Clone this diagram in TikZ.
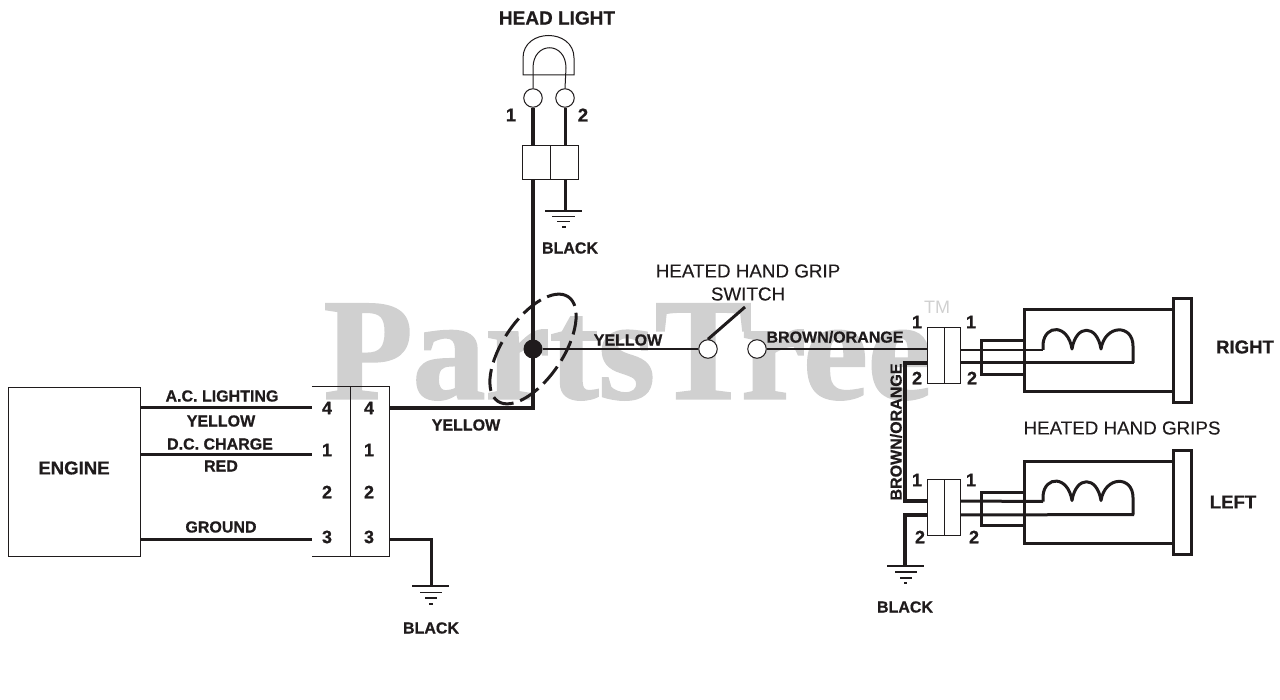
\documentclass[tikz,border=0pt]{standalone}
\usepackage{fontspec}
\setmainfont{Liberation Sans}
\newfontfamily\lblf[UprightFont=* Bold,FakeBold=0.7]{Liberation Sans}
\newfontfamily\plainf[FakeBold=0.15]{Liberation Sans}
\newfontfamily\wmf[UprightFont=* Bold,FakeBold=1.6,FakeStretch=1.01]{Liberation Serif}
\definecolor{ink}{HTML}{1F1B1C}
\definecolor{wmark}{HTML}{D0D0D0}
\tikzset{
 thinln/.style={draw=ink,line width=1pt},
 wireln/.style={draw=ink,line width=2pt},
 medln/.style={draw=ink,line width=3pt},
 thickln/.style={draw=ink,line width=3.8pt},
 gripln/.style={draw=ink,line width=3pt},
 lbl/.style={text=ink,inner sep=0pt,font=\lblf\fontsize{16}{16}\selectfont},
 biglbl/.style={text=ink,inner sep=0pt,font=\lblf\fontsize{18.6}{18.6}\selectfont},
 numlbl/.style={text=ink,inner sep=0pt,font=\lblf\fontsize{18}{18}\selectfont},
 plainlbl/.style={text=ink,inner sep=0pt,font=\plainf\fontsize{18.8}{18.8}\selectfont},
 term/.style={circle,draw=ink,line width=1pt,fill=white,inner sep=0pt,minimum size=18.5pt},
 plug/.style={draw=ink,line width=0.8pt,fill=white,inner sep=0pt,minimum width=32pt,minimum height=55pt},
 gnd/.style={draw=ink,line width=1.6pt},
}
\begin{document}
\begin{tikzpicture}[x=1pt,y=-1pt]
\useasboundingbox (0,0) rectangle (1280,700);
% watermark
\node[text=wmark,inner sep=0pt,font=\wmf\fontsize{144}{144}\selectfont] (wm) at (628,352) {PartsTree};
\node[text=wmark,inner sep=0pt,font=\fontsize{18}{18}\selectfont] (tm) at (937,307) {TM};

% engine and main connector
\node[thinln,draw,line width=0.8pt,inner sep=0pt,minimum width=132pt,minimum height=169pt] (eng) at (74,471.5) {};
\node[biglbl] at (eng.center |- 0,468) {ENGINE};
\node[inner sep=0pt,minimum width=77pt,minimum height=169pt] (cn) at (350.5,471.5) {};
\draw[thinln] (cn.north west) -- (cn.north east) -- (cn.south east) -- (cn.south west);
\draw[thinln] (cn.north) -- (cn.south);
\foreach \n/\y/\t in {a/408/4,b/450/1,c/492/2,d/537/3}{
 \node[numlbl] (\n l) at (327,\y) {\t};
 \node[numlbl] (\n r) at (369,\y) {\t};
}
\coordinate (w4) at (0,408);
\coordinate (w1b) at (0,454);
\coordinate (w3b) at (0,539);
\draw[medln] (eng.east |- w4) -- (cn.west |- w4);
\draw[medln] (eng.east |- w1b) -- (cn.west |- w1b);
\draw[medln] (eng.east |- w3b) -- (cn.west |- w3b);
\node[lbl] (t1) at (222,396) {A.C. LIGHTING};
\node[lbl] (t2) at (221,421) {YELLOW};
\node[lbl] (t3) at (220,444) {D.C. CHARGE};
\node[lbl] (t4) at (221,466) {RED};
\node[lbl] (t5) at (221,527) {GROUND};

% main trunk
\coordinate (jn) at (533,349);
\node[inner sep=0pt,minimum width=55pt,minimum height=33pt] (hp) at (550.5,162.5) {};
\draw[thickln,line join=miter] (cn.east |- w4) -- (jn |- w4) -- (jn |- hp.south);
\node[lbl] (t6) at (466,425) {YELLOW};
% ground of main connector
\coordinate (g1) at (431,586);
\draw[medln] (cn.east |- w3b) -- (g1 |- w3b) -- (g1);
\draw[gnd] (412,586) -- (449,586) (420,592.5) -- (442,592.5) (425,598) -- (437,598) (429,604) -- (433,604);
\node[lbl] (t7) at (431,628) {BLACK};

% head light
\draw[thinln] (523,75) -- (523,58) .. controls (523,28) and (574,28) .. (574,58) -- (574,75) -- cycle;
\node[term] (h1) at (533,98) {};
\node[term] (h2) at (565,98) {};
\draw[thinln] (h1.north) -- (533,68) .. controls (533,41) and (566,41) .. (566,68) -- (h2.north);
\draw[thickln] (h1.south) -- (h1.south |- hp.north);
\draw[medln] (h2.south) -- (h2.south |- hp.north);
\draw[thinln,fill=white] (hp.north west) rectangle (hp.south east);
\draw[thinln] (hp.north) -- (hp.south);
\coordinate (g2) at (565,211);
\draw[medln] (g2 |- hp.south) -- (g2);
\draw[gnd] (545,211) -- (582,211) (552,216.7) -- (575,216.7) (557,221.5) -- (570,221.5) (562,227) -- (566,227);
\node[lbl,font=\lblf\fontsize{19}{19}\selectfont] (t8) at (557,18) {HEAD LIGHT};
\node[biglbl] (t9) at (511,115) {1};
\node[biglbl] (t10) at (583,115) {2};
\node[lbl] (t11) at (570,248) {BLACK};

% junction, dashed ring, switch
\node[circle,fill=ink,inner sep=0pt,minimum size=19pt] (jd) at (jn) {};
\draw[draw=ink,line width=3pt,dash pattern=on 22pt off 7pt,rotate around={56:(jn)}] (jn) ellipse [x radius=63pt,y radius=30pt];
\node[term] (s1) at (708,349) {};
\node[term] (s2) at (757,349) {};
\coordinate (arm) at (745,307);
\draw[wireln] (jd) -- (s1);
\draw[medln] (s1.north) -- (arm);
\node[lbl] (t12) at (628,340) {YELLOW};
\node[lbl] (t13) at (835,337) {BROWN/ORANGE};
\node[plainlbl] (t14) at (748,271) {HEATED HAND GRIP};
\node[plainlbl] (t15) at (748,294) {SWITCH};

% plugs
\coordinate (w1) at (905,363);
\coordinate (w2) at (905,501);
\coordinate (w3) at (905,515);
\coordinate (g3) at (905,566);
\node[inner sep=0pt,minimum width=32pt,minimum height=55pt] (p1) at (944,355.5) {};
\node[inner sep=0pt,minimum width=32pt,minimum height=55pt] (p2) at (944,507.5) {};
\draw[wireln] (s2) -- (s2 -| p1.west);
\draw[thickln,line join=miter] (p1.west |- w1) -- (w1) -- (w2) -- (p2.west |- w2);
\draw[thickln,line join=miter] (p2.west |- w3) -- (w3) -- (g3);
\draw[gnd] (887,566) -- (924,566) (895,572) -- (917,572) (900,577.7) -- (912,577.7) (904,583) -- (907,583);
\node[lbl] (t16) at (905,607) {BLACK};
\node[lbl,rotate=90] (t17) at (896,432) {BROWN/ORANGE};
\foreach \n/\x/\y/\t in {q1/917/322/1,q2/971/322/1,q3/917/378/2,q4/972/378/2,q5/917/480/1,q6/971/480/1,q7/920/537/2,q8/974/537/2}{
 \node[numlbl] (\n) at (\x,\y) {\t};
}

% grips
\foreach \dy/\nm in {0/R,151.5/L}{
\begin{scope}[shift={(0,\dy)}]
 \node[inner sep=0pt,minimum width=42pt,minimum height=33pt] (st\nm) at (1003,357.5) {};
 \draw[gripln] (1172,310) -- (1024,310) -- (1024,392) -- (1172,392);
 \draw[gripln] (st\nm.north east) -- (st\nm.north west) -- (st\nm.south west) -- (st\nm.south east);
 \draw[gripln,fill=white] (1173,298.5) rectangle (1191,402.5);
 \draw[gripln,line join=round]
   (1043,350) -- (1043,344) .. controls (1045,324) and (1068,324) .. (1072,349)
   .. controls (1076,324) and (1097,324) .. (1101,349)
   .. controls (1105,324) and (1133,324) .. (1133,346) -- (1133,363);
\end{scope}
}
\draw[wireln,line width=2.4pt] (p1.east |- 0,350) -- (1043,350);
\draw[gripln] (p1.east |- w1) -- (1134,363);
\draw[gripln] (p2.east |- w2) -- (1043,501.5);
\draw[gripln] (p2.east |- w3) -- (1134,514.5);
\draw[plug] (p1.south west) rectangle (p1.north east);
\draw[plug] (p2.south west) rectangle (p2.north east);
\draw[draw=ink,line width=0.8pt] (p1.north) -- (p1.south);
\draw[draw=ink,line width=0.8pt] (p2.north) -- (p2.south);
\node[biglbl] (t18) at (1245,347) {RIGHT};
\node[biglbl] (t19) at (1233,502) {LEFT};
\node[plainlbl] (t20) at (1122,428) {HEATED HAND GRIPS};
\end{tikzpicture}
\end{document}
